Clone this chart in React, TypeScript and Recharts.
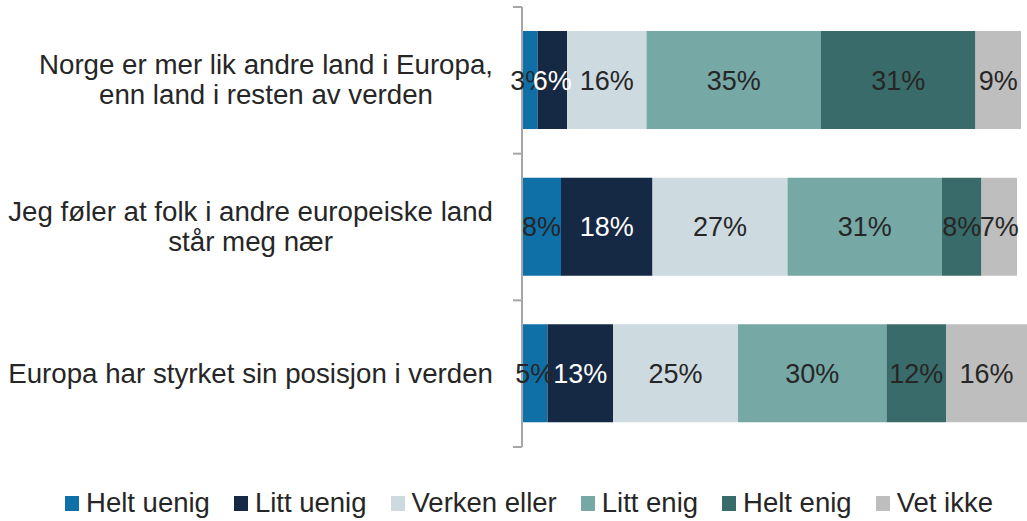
import React from "react";
import { BarChart, Bar, XAxis, YAxis, Legend, LabelList } from "recharts";

const categories = [
  "Norge er mer lik andre land i Europa,\nenn land i resten av verden",
  "Jeg føler at folk i andre europeiske land\nstår meg nær",
  "Europa har styrket sin posisjon i verden",
];
const seriesNames = ["Helt uenig", "Litt uenig", "Verken eller", "Litt enig", "Helt enig", "Vet ikke"];
const heltUenig = [3.1, 7.8, 5.1];
const littUenig = [5.9, 18.3, 13.1];
const verkenEller = [15.9, 27.0, 25.0];
const littEnig = [34.9, 30.9, 29.7];
const heltEnig = [30.9, 7.9, 11.9];
const vetIkke = [9.1, 7.1, 16.2];

const colors = ["#0E70A6", "#152844", "#CDDAE0", "#76A8A6", "#386B69", "#BEBEBE"];
const labelColors = ["#262626", "#FFFFFF", "#262626", "#262626", "#262626", "#262626"];
const AXIS = "#A6A6A6";
const FONT = "'Liberation Sans', Arial, sans-serif";

const seriesValues = [heltUenig, littUenig, verkenEller, littEnig, heltEnig, vetIkke];
const keys = ["s0", "s1", "s2", "s3", "s4", "s5"];
const data = categories.map((c, i) => {
  const row: any = { name: c };
  seriesValues.forEach((vals, s) => (row[keys[s]] = vals[i]));
  return row;
});

const TICK_LEN = 9;

const CategoryTick = (props: any) => {
  const { x, y, payload, index } = props;
  const half = Number(payload?.offset) || 0;
  const isLast = index === categories.length - 1;
  return (
    <g>
      {half > 0 && (
        <line x1={x - TICK_LEN} x2={x} y1={y - half} y2={y - half} stroke={AXIS} strokeWidth={2} />
      )}
      {half > 0 && isLast && (
        <line x1={x - TICK_LEN} x2={x} y1={y + half} y2={y + half} stroke={AXIS} strokeWidth={2} />
      )}
      <foreignObject x={0} y={y - 73} width={x - 29} height={146}>
        <div
          style={{
            display: "flex",
            justifyContent: "flex-end",
            alignItems: "center",
            height: "100%",
            width: "100%",
          }}
        >
          <div
            style={{
              textAlign: "center",
              whiteSpace: "pre",
              fontSize: 27.7,
              lineHeight: "30px",
              color: "#262626",
              fontFamily: FONT,
            }}
          >
            {payload.value}
          </div>
        </div>
      </foreignObject>
    </g>
  );
};

const LegendContent = () => {
  return (
    <div
      style={{
        display: "flex",
        justifyContent: "center",
        alignItems: "center",
        height: 36,
        paddingLeft: 31,
        fontFamily: FONT,
        fontSize: 27.5,
        color: "#262626",
      }}
    >
      {seriesNames.map((n, i) => (
        <div key={n} style={{ display: "flex", alignItems: "center", marginRight: i < seriesNames.length - 1 ? 24 : 0 }}>
          <span style={{ display: "inline-block", width: 14, height: 15, background: colors[i], marginRight: 7 }} />
          <span>{n}</span>
        </div>
      ))}
    </div>
  );
};

export default function App() {
  return (
    <div style={{ position: "absolute", left: 0, top: 0, width: 1027, height: 521, background: "#fff" }}>
      <BarChart
        width={1027}
        height={521}
        data={data}
        layout="vertical"
        margin={{ top: 7, right: 0, left: 0, bottom: 38 }}
        style={{ fontFamily: FONT }}
      >
        <XAxis type="number" domain={[0, 101]} hide allowDataOverflow />
        <YAxis
          type="category"
          dataKey="name"
          width={522}
          axisLine={{ stroke: AXIS, strokeWidth: 2 }}
          tickLine={false}
          tickSize={0}
          tickMargin={0}
          tick={<CategoryTick />}
          interval={0}
        />
        <Legend
          verticalAlign="bottom"
          content={<LegendContent />}
          wrapperStyle={{ bottom: 0, left: 0, width: 1027, height: 36 }}
        />
        {keys.map((k, s) => (
          <Bar
            key={k}
            dataKey={k}
            name={seriesNames[s]}
            stackId="a"
            fill={colors[s]}
            barSize={98}
            isAnimationActive={false}
          >
            <LabelList
              dataKey={k}
              position="center"
              formatter={(v: any) => `${Math.round(Number(v))}%`}
              fill={labelColors[s]}
              style={{ fontSize: 27, fontFamily: FONT, fill: labelColors[s] }}
            />
          </Bar>
        ))}
      </BarChart>
    </div>
  );
}
